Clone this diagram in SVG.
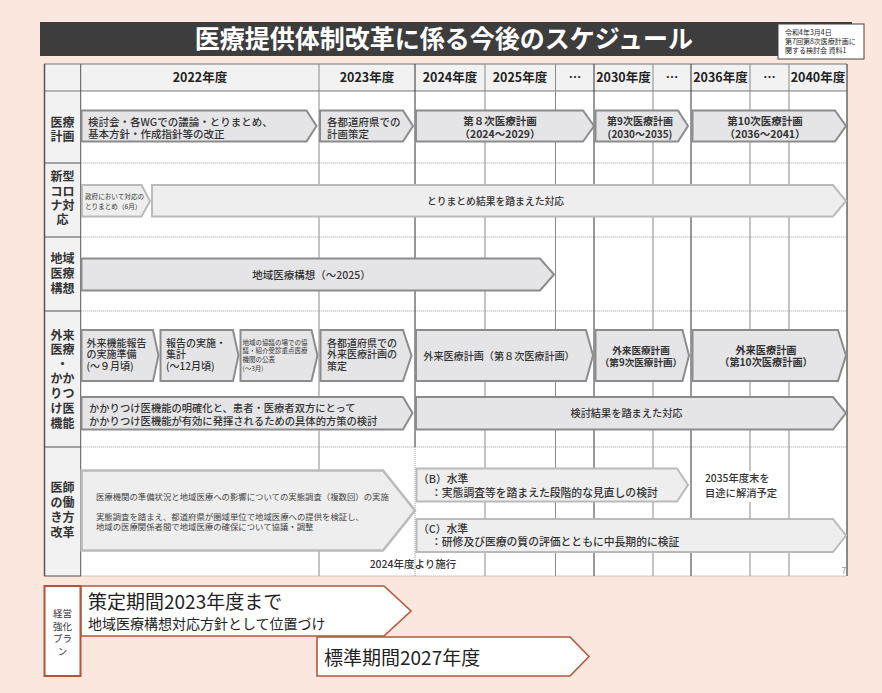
<svg xmlns="http://www.w3.org/2000/svg" width="882" height="693" viewBox="0 0 882 693">
<style>
text{font-family:"Noto Sans CJK JP","Noto Sans",sans-serif;fill:#333}
.b{font-weight:bold}
.m{font-weight:500}
.c{text-anchor:middle}
.ar{fill:#e5e5e7;stroke:#8c8c8c;stroke-width:2}
.al{fill:#eeeeee;stroke:#bababa;stroke-width:2}
.ao{fill:#ffffff;stroke:#b5573c;stroke-width:1.6}
.vl{stroke:#8a8a8a;stroke-width:1}
.vd{stroke:#333;stroke-width:1}
.dot{stroke:#9a9a9a;stroke-width:1;stroke-dasharray:1 1}
.lb{font-size:12px;font-weight:bold;text-anchor:middle;fill:#333}
.hd{font-size:12.5px;font-weight:bold;text-anchor:middle;fill:#222}
</style>
<rect x="0" y="0" width="882" height="693" fill="#fbe7dd"/>

<g id="title">
<rect x="40" y="22" width="812" height="34" fill="#3d3d3d"/>
<text x="444" y="48" class="b c" font-size="25" style="fill:#ffffff">医療提供体制改革に係る今後のスケジュール</text>
</g>
<g id="note">
<rect x="778" y="24" width="86" height="35" fill="#ffffff" stroke="#444" stroke-width="1"/>
<text x="785" y="35" font-size="7" style="fill:#222">令和4年3月4日</text>
<text x="785" y="44" font-size="7" style="fill:#222">第7回第8次医療計画に</text>
<text x="785" y="53" font-size="7" style="fill:#222">関する検討会 資料1</text>
</g>

<g id="table">
<rect x="44" y="64" width="803" height="512" fill="#ffffff"/>
<rect x="44" y="64" width="803" height="27" fill="#f2f2f2"/>
<rect x="44" y="64" width="36.7" height="512" fill="#f2f2f2"/>
<line class="dot" x1="80.7" y1="163" x2="847" y2="163"/>
<line class="dot" x1="80.7" y1="237" x2="847" y2="237"/>
<line class="dot" x1="80.7" y1="311" x2="847" y2="311"/>
<line class="dot" x1="80.7" y1="447" x2="847" y2="447"/>
<line class="dot" x1="80.7" y1="576" x2="847" y2="576"/>
<line x1="44" y1="64" x2="847" y2="64" stroke="#777" stroke-width="1"/>
<line x1="44" y1="91" x2="847" y2="91" stroke="#777" stroke-width="1"/>
<g stroke="#555" stroke-width="1">
<line x1="44" y1="163" x2="80.7" y2="163"/>
<line x1="44" y1="237" x2="80.7" y2="237"/>
<line x1="44" y1="311" x2="80.7" y2="311"/>
<line x1="44" y1="447" x2="80.7" y2="447"/>
<line x1="44" y1="576" x2="80.7" y2="576"/>
</g>
<line x1="44.5" y1="64" x2="44.5" y2="576" stroke="#555" stroke-width="1.5"/>
<line x1="80.7" y1="64" x2="80.7" y2="576" stroke="#555" stroke-width="1"/>
<line class="vl" x1="319" y1="64" x2="319" y2="576"/>
<line class="vd" x1="415" y1="64" x2="415" y2="447"/>
<line class="dot" x1="415" y1="447" x2="415" y2="576"/>
<line class="vl" x1="485" y1="64" x2="485" y2="576"/>
<line class="vl" x1="555.5" y1="64" x2="555.5" y2="576"/>
<line class="vd" x1="594" y1="64" x2="594" y2="576"/>
<line class="vl" x1="653" y1="64" x2="653" y2="576"/>
<line class="vd" x1="691" y1="64" x2="691" y2="576"/>
<line class="vl" x1="750" y1="64" x2="750" y2="576"/>
<line class="vl" x1="789" y1="64" x2="789" y2="576"/>
<line x1="847" y1="64" x2="847" y2="576" stroke="#666" stroke-width="1.5"/>
<rect x="744" y="471" width="12" height="31" fill="#ffffff"/>
</g>

<g id="header">
<text x="200" y="82" class="hd">2022年度</text>
<text x="367" y="82" class="hd">2023年度</text>
<text x="450" y="82" class="hd">2024年度</text>
<text x="520" y="82" class="hd">2025年度</text>
<text x="575" y="82" class="hd">…</text>
<text x="623.5" y="82" class="hd">2030年度</text>
<text x="672" y="82" class="hd">…</text>
<text x="720.5" y="82" class="hd">2036年度</text>
<text x="769.5" y="82" class="hd">…</text>
<text x="818" y="82" class="hd">2040年度</text>
</g>

<g id="row-labels">
<text x="62.4" y="126.5" class="lb">医療</text>
<text x="62.4" y="141" class="lb">計画</text>
<text x="62.4" y="181" class="lb">新型</text>
<text x="62.4" y="195.5" class="lb">コロ</text>
<text x="62.4" y="210" class="lb">ナ対</text>
<text x="62.4" y="224" class="lb">応</text>
<text x="62.4" y="262.5" class="lb">地域</text>
<text x="62.4" y="277.5" class="lb">医療</text>
<text x="62.4" y="292.5" class="lb">構想</text>
<text x="62.4" y="339.5" class="lb">外来</text>
<text x="62.4" y="354" class="lb">医療</text>
<text x="62.4" y="368.5" class="lb">・</text>
<text x="62.4" y="383" class="lb">かか</text>
<text x="62.4" y="398" class="lb">りつ</text>
<text x="62.4" y="412.5" class="lb">け医</text>
<text x="62.4" y="427.5" class="lb">機能</text>
<text x="62.4" y="491.5" class="lb">医師</text>
<text x="62.4" y="506.5" class="lb">の働</text>
<text x="62.4" y="521.5" class="lb">き方</text>
<text x="62.4" y="536.5" class="lb">改革</text>
</g>

<g id="connectors"></g>

<g id="iryo-a">
<polygon class="ar" points="81.5,110.5 306.5,110.5 316.5,126 306.5,141.5 81.5,141.5"/>
<text x="88" y="125.5" class="m" font-size="10.5">検討会・各WGでの議論・とりまとめ、</text>
<text x="88" y="138" class="m" font-size="10.5">基本方針・作成指針等の改正</text>
</g>
<g id="iryo-b">
<polygon class="ar" points="320,110.5 403,110.5 413,126 403,141.5 320,141.5"/>
<text x="327" y="125.5" class="m" font-size="10.5">各都道府県での</text>
<text x="327" y="138" class="m" font-size="10.5">計画策定</text>
</g>
<g id="iryo-8">
<polygon class="ar" points="416,110.5 583,110.5 594,126 583,141.5 416,141.5"/>
<text x="500" y="125" class="b c" font-size="10.5">第８次医療計画</text>
<text x="500" y="137.5" class="b c" font-size="10.5">（2024～2029）</text>
</g>
<g id="iryo-9">
<polygon class="ar" points="595.5,110.5 678,110.5 688,126 678,141.5 595.5,141.5"/>
<text x="640" y="125" class="b c" font-size="10">第9次医療計画</text>
<text x="640" y="137.5" class="b c" font-size="10">(2030～2035)</text>
</g>
<g id="iryo-10">
<polygon class="ar" points="692.5,110.5 835,110.5 846,126 835,141.5 692.5,141.5"/>
<text x="765" y="125" class="b c" font-size="10.5">第10次医療計画</text>
<text x="765" y="137.5" class="b c" font-size="10.5">（2036～2041）</text>
</g>

<g id="corona-a">
<polygon class="al" points="82,185 141.5,185 150,201 141.5,216.5 82,216.5"/>
<text x="85" y="199" font-size="6.6">政府において対応の</text>
<text x="85" y="209" font-size="6.6">とりまとめ（6月）</text>
</g>
<g id="corona-b">
<polygon class="al" points="152,185 833,185 846,201 833,216.5 152,216.5"/>
<text x="495.5" y="204.5" class="m c" font-size="9.8">とりまとめ結果を踏まえた対応</text>
</g>

<g id="chiiki">
<polygon class="ar" points="81.5,258.5 540,258.5 554,274.5 540,290.5 81.5,290.5"/>
<text x="311.5" y="278.5" class="m c" font-size="10.5">地域医療構想（～2025）</text>
</g>

<g id="gairai-a">
<polygon class="ar" points="81.5,330 153,330 158.5,355.5 153,381 81.5,381"/>
<text x="86.5" y="346.5" class="m" font-size="10">外来機能報告</text>
<text x="86.5" y="358.3" class="m" font-size="10">の実施準備</text>
<text x="86.5" y="370" class="m" font-size="10">(～９月頃)</text>
</g>
<g id="gairai-b">
<polygon class="ar" points="160.5,330 233,330 238.5,355.5 233,381 160.5,381"/>
<text x="166" y="346.5" class="m" font-size="10">報告の実施・</text>
<text x="166" y="358.3" class="m" font-size="10">集計</text>
<text x="166" y="370" class="m" font-size="10">(～12月頃)</text>
</g>
<g id="gairai-c">
<polygon class="ar" points="240.5,330 311.5,330 317.5,355.5 311.5,381 240.5,381"/>
<text x="242.5" y="344.5" font-size="6.5">地域の協議の場での協</text>
<text x="242.5" y="353.2" font-size="6.5">議・紹介受診重点医療</text>
<text x="242.5" y="361.8" font-size="6.5">機関の公表</text>
<text x="242.5" y="370.5" font-size="6.5">(～3月)</text>
</g>
<g id="gairai-d">
<polygon class="ar" points="320.5,330 403,330 411.5,355.5 403,381 320.5,381"/>
<text x="327" y="346.5" class="m" font-size="10">各都道府県での</text>
<text x="327" y="358.3" class="m" font-size="10">外来医療計画の</text>
<text x="327" y="370" class="m" font-size="10">策定</text>
</g>
<g id="gairai-e">
<polygon class="ar" points="416,330 586,330 593,355.5 586,381 416,381"/>
<text x="499" y="359.5" class="m c" font-size="10.1">外来医療計画（第８次医療計画）</text>
</g>
<g id="gairai-f">
<polygon class="ar" points="595.5,330 682.5,330 689,355.5 682.5,381 595.5,381"/>
<text x="641" y="353.5" class="b c" font-size="9.6">外来医療計画</text>
<text x="641" y="366" class="b c" font-size="9.6">（第9次医療計画）</text>
</g>
<g id="gairai-g">
<polygon class="ar" points="692.5,330 838,330 846,355.5 838,381 692.5,381"/>
<text x="766" y="353.5" class="b c" font-size="10.2">外来医療計画</text>
<text x="766" y="366" class="b c" font-size="10.2">（第10次医療計画）</text>
</g>
<g id="kakari-a">
<polygon class="ar" points="81.5,397 403,397 412.5,413 403,429.5 81.5,429.5"/>
<text x="89" y="411.5" class="m" font-size="10.3">かかりつけ医機能の明確化と、患者・医療者双方にとって</text>
<text x="89" y="424.5" class="m" font-size="10.3">かかりつけ医機能が有効に発揮されるための具体的方策の検討</text>
</g>
<g id="kakari-b">
<polygon class="ar" points="416,397 833,397 846,413 833,429.5 416,429.5"/>
<text x="626.5" y="416.5" class="m c" font-size="10.2">検討結果を踏まえた対応</text>
</g>

<g id="ishi-a">
<polygon class="al" points="81.5,470.5 383,470.5 415,510.5 383,550.5 81.5,550.5" style="stroke-width:2.5"/>
<text x="96" y="499.5" font-size="8.4" style="fill:#444">医療機関の準備状況と地域医療への影響についての実態調査（複数回）の実施</text>
<text x="96" y="519.5" font-size="8.4" style="fill:#444">実態調査を踏まえ、都道府県が圏域単位で地域医療への提供を検証し、</text>
<text x="96" y="530" font-size="8.4" style="fill:#444">地域の医療関係者間で地域医療の確保について協議・調整</text>
</g>
<g id="ishi-b">
<polygon class="al" points="416.5,468.5 677,468.5 688,485 677,501.5 416.5,501.5"/>
<text x="418" y="482.5" class="m" font-size="10.8">（B）水準</text>
<text x="431" y="496.5" class="m" font-size="10.8">：実態調査等を踏まえた段階的な見直しの検討</text>
</g>
<g id="ishi-2035">
<text x="705" y="482" class="m" font-size="10.3">2035年度末を</text>
<text x="705" y="497" class="m" font-size="10.3">目途に解消予定</text>
</g>
<g id="ishi-c">
<polygon class="al" points="416.5,519 833,519 846,535.5 833,552 416.5,552"/>
<text x="418" y="532.5" class="m" font-size="10.8">（C）水準</text>
<text x="431" y="546" class="m" font-size="10.8">：研修及び医療の質の評価とともに中長期的に検証</text>
</g>
<g id="ishi-note">
<text x="413" y="567.5" class="m c" font-size="10.5">2024年度より施行</text>
<text x="841.5" y="574" font-size="9" style="fill:#999">7</text>
</g>

<g id="keiei-label">
<rect x="44.5" y="586" width="36" height="90" fill="#ffffff" stroke="#b5533a" stroke-width="2"/>
<text x="62.5" y="617" class="c" font-size="9.5">経営</text>
<text x="62.5" y="629.5" class="c" font-size="9.5">強化</text>
<text x="62.5" y="642" class="c" font-size="9.5">プラ</text>
<text x="62.5" y="655" class="c" font-size="9.5">ン</text>
</g>
<g id="keiei-a">
<polygon class="ao" points="81,586 384,586 411,611 384,636 81,636"/>
<text x="88" y="609" font-size="19" style="fill:#222">策定期間2023年度まで</text>
<text x="88" y="628.5" font-size="14" style="fill:#222">地域医療構想対応方針として位置づけ</text>
</g>
<g id="keiei-b">
<polygon class="ao" points="317,637 570,637 589,656.5 570,676 317,676"/>
<text x="324" y="664.5" font-size="19" style="fill:#222">標準期間2027年度</text>
</g>
</svg>
